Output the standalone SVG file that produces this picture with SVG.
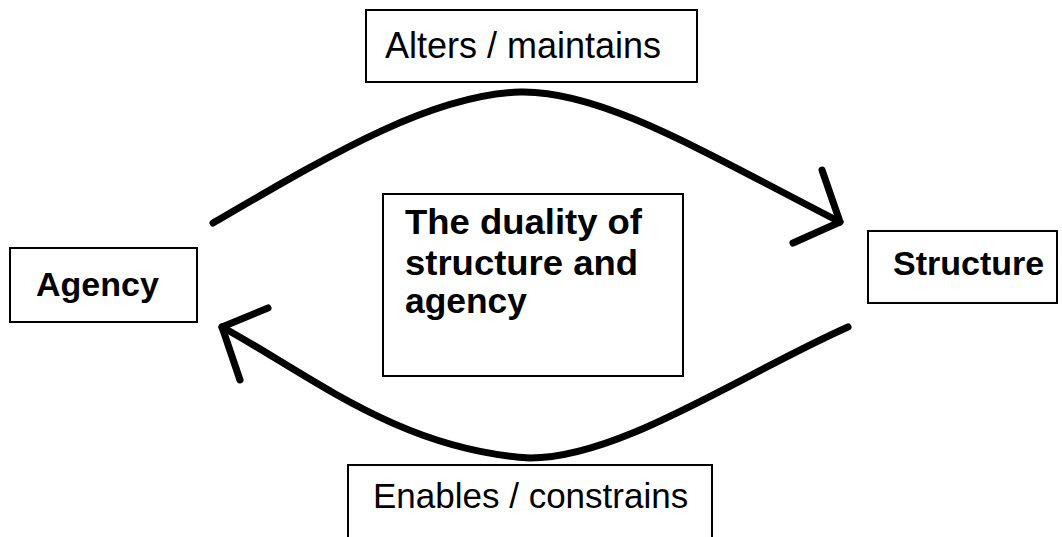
<svg xmlns="http://www.w3.org/2000/svg" width="1062" height="537" viewBox="0 0 1062 537">
<style>
.box{fill:#fff;stroke:#000;stroke-width:2}
.t{font-family:"Liberation Sans",Arial,sans-serif;fill:#000}
.reg{font-size:36px}
.reg2{font-size:35px}
.bold{font-size:34px;font-weight:bold}
.mid{font-size:35px;font-weight:bold}
.arc{fill:none;stroke:#000;stroke-width:7;stroke-linecap:round;stroke-linejoin:round}
</style>
<rect width="1062" height="537" fill="#fff"/>
<g id="connectors">
<path class="arc" d="M213,223 C330,155 430,95 520,92 C600,90 700,150 840,222"/>
<polyline class="arc" points="822,170 840,222 793,243"/>
<path class="arc" d="M848,327 C740,375 620,458 530,458 C400,450 310,375 222,327"/>
<polyline class="arc" points="268,308 222,327 240,380"/>
</g>
<g id="alters">
<rect class="box" x="366" y="10" width="331" height="72"/>
<text class="t reg" x="385" y="58">Alters / maintains</text>
</g>
<g id="agency">
<rect class="box" x="10" y="248" width="187" height="74"/>
<text class="t bold" x="36" y="296">Agency</text>
</g>
<g id="structure">
<rect class="box" x="868" y="231" width="189" height="72"/>
<text class="t bold" x="893" y="275">Structure</text>
</g>
<g id="duality">
<rect class="box" x="383" y="194" width="300" height="182"/>
<text class="t mid" x="405" y="234" textLength="237" lengthAdjust="spacingAndGlyphs">The duality of</text>
<text class="t mid" x="405" y="275" textLength="233" lengthAdjust="spacingAndGlyphs">structure and</text>
<text class="t mid" x="405" y="313" textLength="122" lengthAdjust="spacingAndGlyphs">agency</text>
</g>
<g id="enables">
<rect class="box" x="348" y="465" width="364" height="90"/>
<text class="t reg2" x="373" y="508">Enables / constrains</text>
</g>
</svg>
